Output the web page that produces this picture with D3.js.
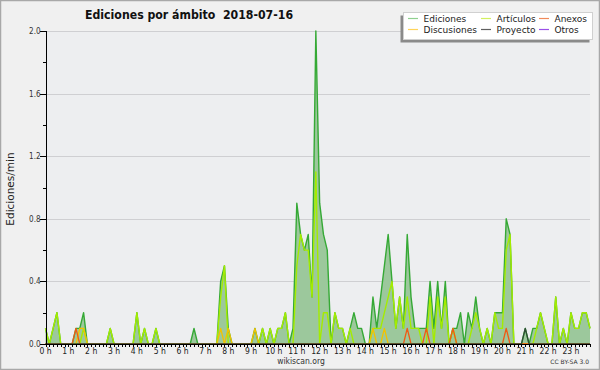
<!DOCTYPE html>
<html><head><meta charset="utf-8">
<script src="https://cdn.jsdelivr.net/npm/d3@7"></script>
<style>body{margin:0;background:#f0f0f0}svg{display:block}</style>
</head><body><svg id="c" width="600" height="370"></svg>
<script>
// 10-minute slots, 6 per hour (one row per hour)
const hourLabels = d3.range(24).map(h => h + " h");
const yTicks = [0, 0.4, 0.8, 1.2, 1.6, 2.0];
const yMinorTicks = [0.2, 0.6, 1.0, 1.4, 1.8];

const ediciones = [
  0.1,0,0.1,0.2,0,0,
  0,0,0.1,0.1,0.2,0,
  0,0,0,0,0,0.1,
  0,0,0,0,0,0,
  0.2,0,0.1,0,0,0.1,
  0,0,0,0,0,0,
  0,0,0,0.1,0,0,
  0,0,0,0,0.4,0.5,
  0.1,0,0,0,0,0,
  0,0.1,0,0.1,0,0.1,
  0,0.1,0.1,0.2,0,0.1,
  0.9,0.7,0.6,0.7,0.3,2.0,
  0.9,0.7,0.6,0,0.2,0.1,
  0.1,0,0.1,0.2,0.1,0.1,
  0,0,0.3,0.1,0.3,0.5,
  0.7,0.4,0.1,0.3,0.1,0.7,
  0.3,0.1,0.1,0.1,0.1,0.4,
  0.1,0.4,0.1,0.4,0,0.1,
  0.1,0.2,0,0.2,0.1,0.3,
  0.1,0,0.1,0,0.2,0.2,
  0.2,0.8,0.7,0,0,0,
  0.1,0,0.1,0.1,0.2,0.1,
  0,0,0.3,0,0.1,0,
  0.2,0.1,0.1,0.2,0.2,0.1
];
const articulos = [
  0.1,0,0.1,0.2,0,0,
  0,0,0,0,0.1,0,
  0,0,0,0,0,0.1,
  0,0,0,0,0,0,
  0.2,0,0.1,0,0,0.1,
  0,0,0,0,0,0,
  0,0,0,0,0,0,
  0,0,0,0,0.3,0.5,
  0,0,0,0,0,0,
  0,0,0,0.1,0,0.1,
  0,0.1,0.1,0.2,0,0,
  0.5,0.7,0.6,0.6,0.3,1.1,
  0,0.2,0.2,0,0.2,0.1,
  0.1,0,0.1,0,0,0,
  0,0,0.1,0.1,0.1,0.2,
  0.3,0.4,0.1,0.3,0.1,0.3,
  0.1,0.1,0.1,0,0,0.3,
  0,0.3,0.1,0.3,0,0.1,
  0,0,0,0,0.1,0.2,
  0.1,0,0.1,0,0.2,0.1,
  0.1,0.6,0.7,0,0,0,
  0,0,0,0.1,0.2,0.1,
  0,0,0.3,0,0.1,0,
  0.2,0.1,0.1,0.2,0.2,0.1
];
const anexos = [
  0,0,0,0,0,0, 0,0,0.1,0,0,0, 0,0,0,0,0,0, 0,0,0,0,0,0,
  0,0,0,0,0,0, 0,0,0,0,0,0, 0,0,0,0,0,0, 0,0,0,0,0,0,
  0,0,0,0,0,0, 0,0,0,0,0,0, 0,0,0,0,0,0, 0,0,0,0,0,0,
  0,0,0,0,0,0, 0,0,0,0,0,0, 0,0,0,0,0,0, 0,0,0,0,0,0.1,
  0,0,0,0,0.1,0, 0,0,0,0,0,0.1, 0,0,0,0,0,0, 0,0,0,0,0,0,
  0,0.1,0,0,0,0, 0,0,0,0,0,0, 0,0,0,0,0,0, 0,0,0,0,0,0
];
const discusiones = [
  0,0,0,0,0,0, 0,0,0,0.1,0.1,0, 0,0,0,0,0,0, 0,0,0,0,0,0,
  0,0,0,0,0,0, 0,0,0,0,0,0, 0,0,0,0,0,0, 0,0,0,0,0.1,0,
  0.1,0,0,0,0,0, 0,0.1,0,0,0,0, 0,0,0,0,0,0, 0,0,0,0,0,0,
  0,0,0,0,0,0, 0,0,0,0,0,0, 0,0,0.1,0,0,0.1, 0,0,0,0,0,0,
  0,0,0,0,0,0, 0,0,0,0,0,0, 0,0,0,0,0,0, 0,0,0,0,0,0,
  0,0,0,0,0,0, 0,0,0,0,0,0, 0,0,0,0,0,0, 0,0,0,0,0,0
];
const proyecto = [
  0,0,0,0,0,0, 0,0,0,0,0,0, 0,0,0,0,0,0, 0,0,0,0,0,0,
  0,0,0,0,0,0, 0,0,0,0,0,0, 0,0,0,0,0,0, 0,0,0,0,0,0,
  0,0,0,0,0,0, 0,0,0,0,0,0, 0,0,0,0,0,0, 0,0,0,0,0,0,
  0,0,0,0,0,0, 0,0,0,0,0,0, 0,0,0,0,0,0, 0,0,0,0,0,0,
  0,0,0,0,0,0, 0,0,0,0,0,0, 0,0,0,0,0,0, 0,0,0,0,0,0,
  0,0,0,0,0,0, 0.1,0,0,0,0,0, 0,0,0,0,0,0, 0,0,0,0,0,0
];
const otros = [
  0,0,0,0,0,0, 0,0,0,0,0,0, 0,0,0,0,0,0, 0,0,0,0,0,0,
  0,0,0,0,0,0, 0,0,0,0,0,0, 0,0,0,0,0,0, 0,0,0,0,0,0,
  0,0,0,0,0,0, 0,0,0,0,0,0, 0,0,0,0,0,0, 0,0,0,0,0,0,
  0,0,0,0,0,0, 0,0,0,0,0,0, 0,0,0,0,0,0, 0,0,0,0,0,0,
  0,0,0,0,0,0, 0,0,0,0,0,0, 0,0,0,0,0,0, 0,0,0,0,0,0,
  0,0,0,0,0,0, 0,0,0,0,0,0, 0,0,0,0,0,0, 0,0,0,0,0,0
];

const legendItems = [
  {name:"Ediciones", color:"#8fd08f", col:0, row:0},
  {name:"Discusiones", color:"#ffd45a", col:0, row:1},
  {name:"Artículos", color:"#d2f060", col:1, row:0},
  {name:"Proyecto", color:"#606060", col:1, row:1},
  {name:"Anexos", color:"#f08a5a", col:2, row:0},
  {name:"Otros", color:"#9a50e8", col:2, row:1}
];

const svg = d3.select("#c");
const L = 45.5, R = 590, T = 31, B = 344;
const x = d3.scaleLinear().domain([0, 143]).range([L, R]);
const y = d3.scaleLinear().domain([0, 2]).range([B, T]);

// background & border
svg.append("rect").attr("x",0.5).attr("y",0.5).attr("width",599).attr("height",369)
  .attr("fill","#f0f0f0").attr("stroke","#a8a8a8").attr("stroke-width",1.5);
svg.append("rect").attr("x",L).attr("y",T).attr("width",R-L).attr("height",B-T).attr("fill","#edeef0");

// grid
svg.append("g").selectAll("line").data(yTicks.slice(1)).join("line")
  .attr("x1",L).attr("x2",R).attr("y1",d=>Math.round(y(d))+0.5).attr("y2",d=>Math.round(y(d))+0.5)
  .attr("stroke","#cfcfd2").attr("stroke-width",1);

// area + lines
const idx = d3.range(144);
const area = d3.area().x(i=>x(i)).y0(B).y1(i=>y(ediciones[i]));
svg.append("path").datum(idx).attr("d",area).attr("fill","#9cc89c");
function drawLine(arr, color, w){
  svg.append("path").datum(idx)
    .attr("d", d3.line().x(i=>x(i)).y(i=>y(arr[i])))
    .attr("fill","none").attr("stroke",color).attr("stroke-width",w).attr("stroke-linejoin","round");
}
drawLine(otros, "#9a40e0", 1.2);
drawLine(ediciones, "#35a935", 1.4);
drawLine(articulos, "#a4ec00", 1.4);
drawLine(discusiones, "#f2c200", 1.3);
drawLine(anexos, "#f05a14", 1.3);
drawLine(proyecto, "#2f4a35", 1.3);

// axes
const yAxis = d3.axisLeft(y).tickValues(yTicks).tickSize(6).tickFormat(d3.format(".1f"));
const gy = svg.append("g").attr("transform",`translate(${L},0)`).call(yAxis);
gy.selectAll("text").attr("font-family","DejaVu Sans Condensed, DejaVu Sans").attr("font-size",8).attr("fill","#333").attr("x",-5);
const gym = svg.append("g").attr("transform",`translate(${L},0)`)
  .call(d3.axisLeft(y).tickValues(yMinorTicks).tickSize(3).tickFormat(""));
gym.select(".domain").remove();

const xAxis = d3.axisBottom(x).tickValues(idx).tickSize(3).tickFormat("");
const gx = svg.append("g").attr("transform",`translate(0,${B})`).call(xAxis);
gx.select(".domain").attr("stroke","#000");
svg.append("g").selectAll("text").data(hourLabels).join("text")
  .attr("x",(d,h)=>x(h*6)).attr("y",354).attr("text-anchor","middle")
  .attr("font-family","DejaVu Sans Condensed, DejaVu Sans").attr("font-size",8.5).attr("fill","#222")
  .text(d=>d);
[gy,gx,gym].forEach(g=>g.selectAll("line,path").attr("stroke","#000").attr("shape-rendering","crispEdges"));

// titles
svg.append("text").attr("x",85).attr("y",18.5).attr("font-family","DejaVu Sans Condensed, DejaVu Sans")
  .attr("font-weight","bold").attr("font-size",12.2).attr("fill","#111")
  .attr("xml:space","preserve").text("Ediciones por ámbito  2018-07-16");
svg.append("text").attr("transform","translate(14,189) rotate(-90)").attr("text-anchor","middle")
  .attr("font-family","DejaVu Sans").attr("font-size",10.5).attr("fill","#222").text("Ediciones/min");
svg.append("text").attr("x",301).attr("y",364).attr("text-anchor","middle")
  .attr("font-family","DejaVu Sans Condensed, DejaVu Sans").attr("font-size",8.5).attr("fill","#333").text("wikiscan.org");
svg.append("text").attr("x",589).attr("y",364).attr("text-anchor","end")
  .attr("font-family","DejaVu Sans").attr("font-size",6).attr("fill","#333").text("CC BY-SA 3.0");

// legend
const lg = svg.append("g");
lg.append("rect").attr("x",400.5).attr("y",15.5).attr("width",189).attr("height",27).attr("fill","#8a8a8a");
lg.append("rect").attr("x",403.5).attr("y",12.5).attr("width",189).attr("height",27).attr("fill","#fff").attr("stroke","#d0d0d0");
const colX = [408, 481, 539];
const rowY = [18.5, 29.5];
legendItems.forEach(it=>{
  const cx = colX[it.col], cy = rowY[it.row];
  lg.append("line").attr("x1",cx).attr("x2",cx+10).attr("y1",cy).attr("y2",cy).attr("stroke",it.color).attr("stroke-width",1.2);
  lg.append("text").attr("x",cx+15.5).attr("y",cy+3.3).attr("font-family","DejaVu Sans").attr("font-size",9)
    .attr("fill","#222").text(it.name);
});
</script></body></html>
